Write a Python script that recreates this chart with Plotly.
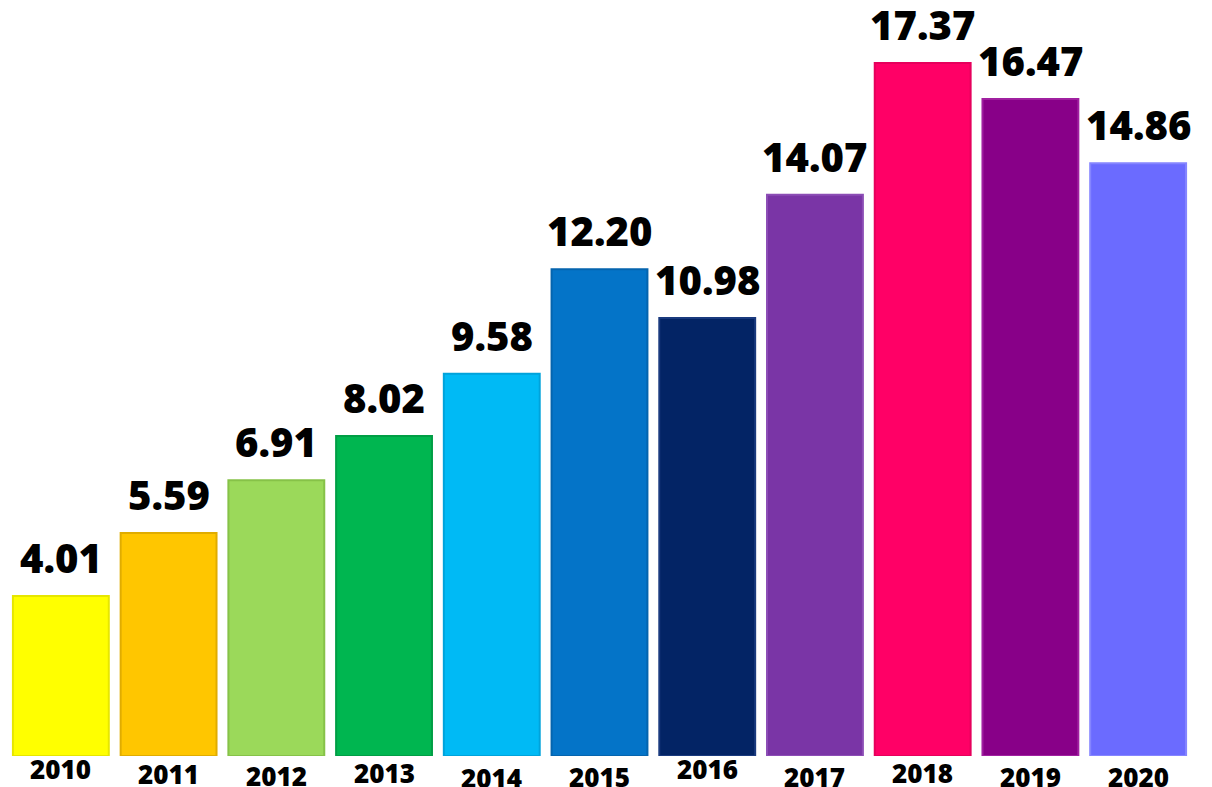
import plotly.graph_objects as go

years = ["2010", "2011", "2012", "2013", "2014", "2015", "2016", "2017", "2018", "2019", "2020"]
values = [4.01, 5.59, 6.91, 8.02, 9.58, 12.20, 10.98, 14.07, 17.37, 16.47, 14.86]
value_labels = ["4.01", "5.59", "6.91", "8.02", "9.58", "12.20", "10.98", "14.07", "17.37", "16.47", "14.86"]

bar_colors = ["#FFFF00", "#FFC600", "#9BD95A", "#00B650", "#00BAF5", "#0474C8",
              "#032465", "#7A35A6", "#FF0066", "#880088", "#6B6BFF"]
edge_colors = ["#E6E600", "#E0AC00", "#86C248", "#009E45", "#00A3DB", "#0564AE",
               "#1A3A7E", "#8C4DB5", "#E6005C", "#A020A0", "#8585FF"]
# small vertical jitter of the year labels in the original (pixels)
year_label_dy = [5, 0, -2, 1, -4, -3, 5, -3, 1, -3, -3]

idx = list(range(len(years)))

fig = go.Figure()
fig.add_trace(go.Bar(
    x=idx, y=values,
    customdata=years,
    marker=dict(color=bar_colors, line=dict(color=edge_colors, width=2)),
    hovertemplate="%{customdata}: %{y}<extra></extra>",
    showlegend=False,
))

annotations = []
for i, v, lab in zip(idx, values, value_labels):
    annotations.append(dict(
        x=i, y=v, xref="x", yref="y", text=lab, showarrow=False,
        yanchor="bottom", yshift=9,
        font=dict(family="Open Sans", size=40, color="#000000", weight=800),
    ))
for i, yr, dy in zip(idx, years, year_label_dy):
    annotations.append(dict(
        x=i, y=0, xref="x", yref="y", text=yr, showarrow=False,
        yanchor="top", yshift=2 + dy,
        font=dict(family="Open Sans", size=26, color="#000000", weight=800),
    ))

fig.update_layout(
    width=1212, height=787,
    margin=dict(l=7, r=20, t=18, b=31),
    paper_bgcolor="#FFFFFF", plot_bgcolor="#FFFFFF",
    bargap=0.11,
    xaxis=dict(range=[-0.5, len(years) - 0.5], showticklabels=False, showgrid=False,
               zeroline=False, showline=False, ticks=""),
    yaxis=dict(range=[0, 18.5], visible=False, showgrid=False, zeroline=False),
    annotations=annotations,
)

fig.write_html(
    "out.html",
    config={"displayModeBar": False},
    post_script="document.body.style.margin='0';document.body.style.padding='0';"
                "document.body.style.overflow='hidden';",
)
